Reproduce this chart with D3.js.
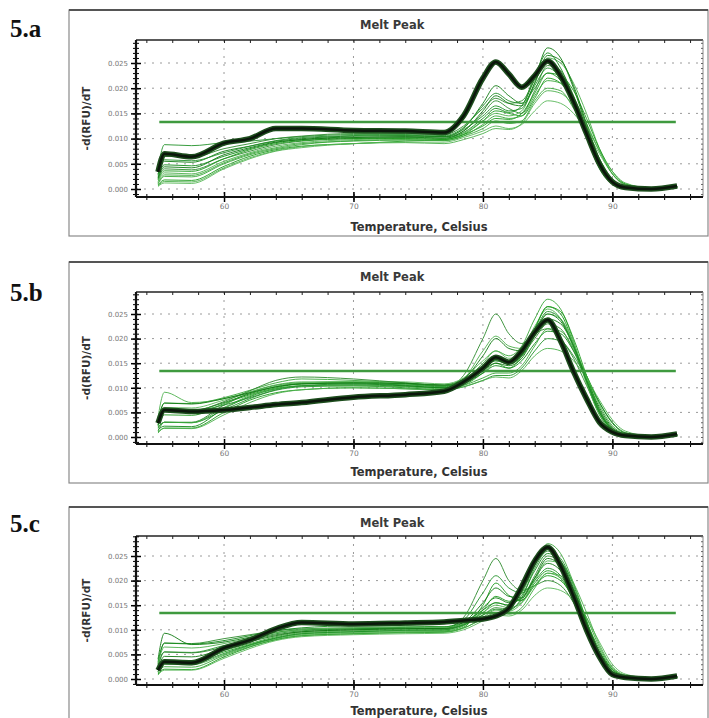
<!DOCTYPE html>
<html>
<head>
<meta charset="utf-8">
<script src="https://cdn.jsdelivr.net/npm/d3@7"></script>
<style>
  body { margin: 0; background: #fff; }
  svg { display: block; }
</style>
</head>
<body>
<div id="chart"></div>
<script>
/***** Data (values in units of 0.001 -d(RFU)/dT) *****/
var TEMPS = [54.9, 55.4, 57.5, 60, 62, 64, 66, 70, 74, 77, 78.5, 80, 81, 82, 83, 84, 85, 86, 87, 88, 89, 90, 91, 93, 95]

var X_TICKS = [60, 70, 80, 90]
var X_TICK_LABELS = ["60", "70", "80", "90"]
var Y_TICKS = [0, 5, 10, 15, 20, 25]
var Y_TICK_LABELS = ["0.000", "0.005", "0.010", "0.015", "0.020", "0.025"]
var PANEL_LABELS = ["5.a", "5.b", "5.c"]
var THRESHOLDS = [13.3, 13.4, 13.4]
var THRESHOLD_RANGE = [55.0, 94.9]

var A_THICK = [3.4, 7.0, 6.4, 9.1, 10.0, 12.0, 12.0, 11.6, 11.5, 11.2, 14.5, 22.0, 25.2, 22.8, 20.2, 22.5, 25.4, 22.4, 17.3, 11.0, 5.0, 1.4, 0.3, 0.0, 0.6]
var A_THIN = [
  [0.8, 1.8, 1.7, 4.5, 6.5, 7.8, 8.5, 9.0, 9.5, 9.8, 10.8, 13.5, 15.5, 15.0, 14.5, 18.0, 22.0, 21.0, 17.0, 11.0, 5.0, 1.5, 0.5, 0.1, 0.4],
  [2.0, 4.0, 3.8, 6.0, 7.5, 8.8, 9.5, 10.0, 10.2, 10.0, 11.5, 15.0, 17.5, 16.0, 15.0, 19.5, 24.5, 23.0, 18.0, 11.0, 4.5, 1.2, 0.3, 0.0, 0.5],
  [1.0, 2.5, 2.4, 5.0, 6.8, 8.0, 8.8, 9.6, 9.8, 9.6, 10.5, 12.0, 13.5, 13.0, 13.5, 17.5, 20.0, 19.5, 16.0, 11.5, 6.0, 2.0, 0.6, 0.1, 0.3],
  [3.0, 5.5, 5.3, 7.5, 8.5, 9.5, 10.0, 10.5, 10.6, 10.4, 12.0, 17.0, 20.5, 18.5, 17.0, 22.0, 28.0, 26.0, 20.0, 12.5, 5.5, 1.5, 0.4, 0.1, 0.4],
  [1.5, 3.2, 3.0, 5.5, 7.2, 8.5, 9.2, 9.8, 10.0, 9.9, 11.0, 13.5, 15.0, 14.5, 15.5, 21.0, 26.0, 25.0, 21.0, 15.0, 8.0, 3.0, 0.8, 0.1, 0.4],
  [4.0, 8.8, 8.6, 9.2, 9.5, 10.0, 10.4, 10.8, 10.7, 10.4, 11.8, 14.5, 16.5, 15.5, 16.0, 20.5, 24.0, 22.0, 17.0, 10.5, 4.0, 1.0, 0.3, 0.0, 0.5],
  [0.5, 1.2, 1.1, 4.0, 6.0, 7.5, 8.2, 9.0, 9.3, 9.3, 10.2, 11.5, 12.5, 12.0, 12.8, 15.5, 17.5, 17.0, 15.0, 11.5, 7.0, 3.0, 1.0, 0.2, 0.3],
  [2.5, 4.8, 4.6, 6.5, 8.0, 9.2, 9.8, 10.3, 10.3, 10.1, 11.2, 14.0, 16.0, 15.2, 16.5, 22.5, 27.0, 24.0, 18.0, 11.0, 4.5, 1.3, 0.4, 0.0, 0.4],
  [1.8, 3.6, 3.5, 6.0, 7.8, 9.0, 9.6, 10.0, 10.0, 9.8, 10.8, 12.5, 14.0, 13.8, 15.0, 19.0, 23.0, 22.5, 19.5, 14.0, 8.0, 3.5, 1.0, 0.2, 0.3],
  [3.5, 6.5, 6.3, 8.0, 9.0, 10.0, 10.5, 11.0, 11.0, 10.8, 12.5, 16.0, 18.0, 17.0, 17.5, 21.5, 25.0, 23.5, 18.5, 11.5, 5.0, 1.4, 0.4, 0.1, 0.5],
  [1.2, 2.8, 2.7, 5.2, 7.0, 8.2, 9.0, 9.5, 9.7, 9.6, 10.5, 12.8, 14.5, 14.0, 14.5, 18.5, 21.5, 21.0, 18.0, 13.0, 7.5, 3.0, 0.9, 0.2, 0.3],
  [2.2, 4.4, 4.2, 6.8, 8.2, 9.3, 9.8, 10.2, 10.4, 10.3, 11.5, 15.5, 18.5, 17.0, 16.5, 21.0, 26.5, 25.5, 20.5, 13.0, 6.0, 1.8, 0.5, 0.1, 0.4],
  [0.6, 1.5, 1.4, 4.2, 6.2, 7.6, 8.4, 9.0, 9.2, 9.0, 9.8, 11.0, 12.0, 11.8, 13.0, 17.0, 19.5, 19.0, 16.5, 12.5, 7.5, 3.5, 1.2, 0.2, 0.3],
  [2.8, 5.8, 5.6, 7.2, 8.5, 9.6, 10.2, 10.6, 10.8, 10.6, 12.2, 16.5, 19.0, 17.5, 17.0, 20.0, 23.0, 21.5, 17.0, 10.5, 4.2, 1.2, 0.3, 0.0, 0.5]
]

var B_THICK = [2.8, 5.5, 5.2, 5.5, 6.0, 6.6, 7.0, 8.1, 8.6, 9.3, 11.2, 14.0, 16.2, 15.2, 17.5, 21.3, 23.8, 19.5, 13.3, 7.8, 3.0, 1.0, 0.3, 0.0, 0.6]
var B_THIN = [
  [1.0, 1.8, 1.8, 5.0, 7.5, 9.0, 9.6, 10.0, 9.8, 9.6, 10.5, 13.0, 15.0, 14.0, 16.5, 22.0, 26.5, 25.0, 19.0, 11.5, 5.0, 1.5, 0.5, 0.1, 0.4],
  [2.0, 3.0, 3.0, 6.5, 9.0, 10.5, 11.0, 11.0, 10.5, 10.0, 12.5, 20.0, 25.0, 21.0, 19.0, 21.0, 22.0, 20.0, 16.0, 10.5, 5.0, 1.8, 0.6, 0.1, 0.4],
  [3.5, 6.9, 6.8, 8.0, 9.5, 11.0, 11.8, 11.5, 11.0, 10.5, 11.5, 15.0, 17.5, 16.5, 18.5, 24.0, 28.0, 26.0, 19.5, 11.0, 4.5, 1.2, 0.4, 0.0, 0.5],
  [2.5, 5.5, 5.4, 7.0, 8.8, 10.2, 10.8, 10.8, 10.4, 10.0, 11.0, 13.5, 15.0, 14.5, 16.0, 20.5, 24.0, 23.0, 18.5, 12.0, 6.0, 2.0, 0.6, 0.1, 0.3],
  [4.0, 9.1, 7.0, 7.8, 9.2, 10.6, 11.2, 11.2, 10.8, 10.3, 11.8, 17.5, 20.5, 18.5, 18.0, 22.5, 26.0, 24.0, 18.0, 11.0, 4.5, 1.3, 0.4, 0.0, 0.4],
  [1.2, 3.0, 2.9, 5.5, 7.8, 9.5, 10.2, 10.4, 10.0, 9.6, 10.2, 11.5, 12.5, 12.5, 14.0, 17.5, 20.0, 19.5, 16.5, 12.0, 7.0, 3.0, 0.9, 0.1, 0.3],
  [3.0, 6.0, 5.9, 7.5, 9.0, 10.3, 11.0, 11.3, 11.2, 10.8, 12.0, 15.5, 17.5, 16.0, 16.5, 21.0, 25.0, 24.0, 19.0, 12.0, 5.5, 1.6, 0.5, 0.1, 0.4],
  [1.5, 2.2, 2.1, 5.8, 8.2, 9.8, 10.4, 10.6, 10.3, 10.0, 10.8, 13.0, 14.5, 14.0, 15.5, 19.0, 21.5, 21.0, 17.5, 12.5, 7.0, 2.8, 0.8, 0.1, 0.3],
  [2.2, 4.5, 4.4, 6.8, 8.6, 10.0, 10.8, 11.0, 10.8, 10.4, 11.5, 14.5, 16.5, 15.5, 17.0, 22.0, 26.5, 25.5, 20.0, 12.5, 5.5, 1.5, 0.4, 0.0, 0.4],
  [2.8, 5.5, 5.3, 7.2, 9.4, 11.5, 12.2, 11.8, 11.0, 10.4, 11.2, 13.8, 15.5, 15.0, 16.5, 20.0, 23.0, 22.0, 17.5, 11.5, 5.5, 1.8, 0.5, 0.1, 0.3],
  [1.8, 3.0, 2.9, 6.0, 8.4, 9.8, 10.4, 10.4, 10.2, 9.8, 10.5, 12.0, 13.0, 13.0, 14.5, 18.5, 22.0, 21.5, 18.0, 12.5, 6.5, 2.3, 0.7, 0.1, 0.3],
  [3.2, 6.9, 6.7, 7.8, 9.0, 10.2, 10.8, 11.0, 10.9, 10.6, 11.8, 16.5, 20.0, 18.0, 17.5, 21.5, 25.0, 23.5, 18.5, 11.5, 5.0, 1.4, 0.4, 0.0, 0.4],
  [0.8, 1.8, 1.7, 4.5, 7.0, 8.8, 9.6, 10.0, 9.8, 9.5, 10.2, 11.5, 12.2, 12.0, 13.5, 16.5, 18.0, 17.5, 15.5, 12.0, 7.5, 3.5, 1.2, 0.2, 0.3],
  [2.4, 5.5, 5.4, 6.5, 8.0, 9.6, 10.4, 10.8, 10.6, 10.2, 11.5, 14.0, 15.5, 14.8, 16.5, 21.5, 25.5, 24.0, 18.5, 11.5, 5.0, 1.5, 0.4, 0.0, 0.4]
]

var C_THICK = [1.8, 3.5, 3.3, 6.3, 7.9, 10.2, 11.5, 11.2, 11.4, 11.6, 11.9, 12.2, 12.8, 14.4, 18.8, 24.0, 26.8, 23.0, 16.8, 10.0, 4.5, 0.9, 0.3, 0.0, 0.6]
var C_THIN = [
  [1.0, 2.0, 1.9, 4.5, 6.5, 8.0, 8.8, 9.2, 9.4, 9.5, 10.5, 15.0, 19.5, 17.0, 16.0, 19.5, 22.0, 20.5, 16.0, 10.5, 5.0, 1.5, 0.5, 0.1, 0.4],
  [3.0, 7.3, 7.2, 8.2, 9.0, 9.8, 10.2, 10.4, 10.4, 10.3, 12.5, 20.0, 24.5, 20.0, 18.0, 19.0, 20.0, 19.0, 15.5, 10.5, 5.5, 2.0, 0.6, 0.1, 0.4],
  [2.0, 3.8, 3.7, 5.8, 7.2, 8.6, 9.4, 9.8, 10.0, 10.0, 11.0, 13.5, 15.5, 15.0, 17.5, 23.0, 27.5, 25.5, 19.5, 12.0, 5.0, 1.5, 0.4, 0.0, 0.4],
  [4.0, 9.3, 7.0, 7.5, 8.5, 9.5, 10.0, 10.2, 10.3, 10.2, 11.2, 14.5, 16.5, 15.5, 16.5, 20.5, 23.5, 22.0, 17.5, 11.5, 5.5, 1.8, 0.5, 0.1, 0.4],
  [1.5, 3.0, 2.9, 5.0, 6.8, 8.2, 9.0, 9.4, 9.6, 9.6, 10.3, 12.5, 14.0, 13.8, 15.5, 20.0, 24.0, 23.5, 19.5, 13.5, 7.0, 2.5, 0.8, 0.1, 0.3],
  [2.5, 5.5, 5.4, 6.8, 8.0, 9.2, 9.8, 10.2, 10.5, 10.6, 12.0, 17.5, 21.0, 18.5, 17.5, 20.0, 22.5, 21.0, 16.5, 10.5, 4.8, 1.4, 0.4, 0.0, 0.4],
  [0.8, 1.8, 1.8, 4.2, 6.2, 7.8, 8.6, 9.0, 9.2, 9.3, 10.0, 11.8, 13.0, 12.8, 14.0, 17.0, 18.5, 18.0, 16.0, 12.5, 7.5, 3.0, 1.0, 0.2, 0.3],
  [3.5, 7.3, 7.1, 7.8, 8.8, 9.8, 10.4, 10.8, 10.8, 10.6, 11.5, 14.0, 15.5, 15.0, 17.0, 22.0, 25.5, 24.0, 18.5, 11.5, 5.0, 1.4, 0.4, 0.0, 0.4],
  [1.8, 3.8, 3.6, 5.5, 7.0, 8.4, 9.2, 9.6, 9.8, 9.8, 10.8, 14.0, 16.8, 15.8, 16.0, 19.0, 21.0, 20.0, 16.5, 11.5, 6.0, 2.0, 0.6, 0.1, 0.3],
  [2.8, 5.5, 5.3, 6.5, 7.8, 9.0, 9.6, 10.0, 10.2, 10.2, 11.0, 13.0, 14.5, 14.2, 16.0, 21.0, 25.0, 23.5, 18.0, 11.0, 4.8, 1.4, 0.4, 0.0, 0.4],
  [1.2, 2.5, 2.4, 4.8, 6.6, 8.0, 8.8, 9.2, 9.5, 9.6, 10.4, 12.2, 13.5, 13.2, 14.5, 18.5, 21.5, 21.0, 17.5, 12.5, 6.5, 2.3, 0.7, 0.1, 0.3],
  [2.2, 4.6, 4.5, 6.2, 7.6, 8.8, 9.6, 10.0, 10.2, 10.3, 11.5, 15.5, 18.5, 16.8, 16.5, 20.5, 24.5, 23.0, 18.0, 11.5, 5.0, 1.5, 0.4, 0.0, 0.4],
  [3.2, 6.5, 6.3, 7.2, 8.3, 9.4, 10.0, 10.4, 10.6, 10.5, 11.2, 13.5, 15.0, 14.5, 15.5, 19.0, 21.5, 20.5, 16.5, 11.0, 5.2, 1.6, 0.5, 0.1, 0.4],
  [1.5, 3.3, 3.2, 5.2, 6.9, 8.3, 9.2, 9.6, 9.9, 10.0, 11.0, 13.0, 14.2, 14.0, 16.5, 22.5, 26.0, 24.5, 19.0, 11.8, 5.0, 1.5, 0.4, 0.0, 0.4]
]

/***** Configuration *****/
var width = 709
var height = 718
var greens = ["#1c9a1c", "#2e8b2e", "#3aa63a", "#0f7a12", "#4cb04c", "#22912a", "#5ab85a", "#138a1a"]
var font = "'DejaVu Sans', Verdana, sans-serif"

// layout of each boxed panel (pixel offsets from the panel's top edge)
var layouts = [
  {top: 10,  labelY: 37,  frameH: 226, plotTop: 30, plotBottom: 187, zero: 179, full: 53, titleY: 19, tickY: 199, xTitleY: 221},
  {top: 262, labelY: 301, frameH: 221, plotTop: 30, plotBottom: 182, zero: 175, full: 52, titleY: 19, tickY: 194, xTitleY: 214},
  {top: 507, labelY: 532, frameH: 230, plotTop: 29, plotBottom: 178, zero: 172, full: 49, titleY: 20, tickY: 190, xTitleY: 208}
]
var series = [[A_THIN, A_THICK], [B_THIN, B_THICK], [C_THIN, C_THICK]]

var frameLeft = 69, frameRight = 708
var plotLeft = 136, plotRight = 703

var svg = d3.select("#chart")
  .append("svg")
  .attr("width", width)
  .attr("height", height)

var x = d3.scaleLinear().domain([53.2, 97]).range([plotLeft, plotRight])

layouts.forEach(function (L, i) {
  var g = svg.append("g").attr("transform", "translate(0," + L.top + ")")
  var y = d3.scaleLinear().domain([0, 25]).range([L.zero, L.full])
  var thin = series[i][0], thick = series[i][1]

  // panel number
  svg.append("text")
    .attr("x", 10).attr("y", L.labelY)
    .attr("font-family", "'Liberation Serif', 'Times New Roman', serif")
    .attr("font-weight", "bold").attr("font-size", 25)
    .attr("fill", "#111")
    .text(PANEL_LABELS[i])

  // outer frame
  g.append("rect")
    .attr("x", frameLeft).attr("y", 0)
    .attr("width", frameRight - frameLeft).attr("height", L.frameH)
    .attr("fill", "#fff").attr("stroke", "#8a8a8a").attr("stroke-width", 1.2)
  g.append("line")
    .attr("x1", frameLeft).attr("x2", frameRight).attr("y1", 0).attr("y2", 0)
    .attr("stroke", "#555").attr("stroke-width", 2)

  g.append("text")
    .attr("x", 360).attr("y", L.titleY)
    .attr("font-family", font).attr("font-weight", "bold").attr("font-size", 11.5)
    .attr("fill", "#3a3a3a")
    .text("Melt Peak")

  // dotted grid
  g.append("g").selectAll("line").data(Y_TICKS).join("line")
    .attr("x1", plotLeft).attr("x2", plotRight)
    .attr("y1", function (d) { return y(d) }).attr("y2", function (d) { return y(d) })
    .attr("stroke", "#9a9a9a").attr("stroke-width", 1).attr("stroke-dasharray", "2,6")
  g.append("g").selectAll("line").data(X_TICKS).join("line")
    .attr("x1", function (d) { return x(d) }).attr("x2", function (d) { return x(d) })
    .attr("y1", L.plotTop).attr("y2", L.plotBottom)
    .attr("stroke", "#9a9a9a").attr("stroke-width", 1).attr("stroke-dasharray", "2,6")

  // plot border: top black, right grey
  g.append("line")
    .attr("x1", plotLeft).attr("x2", plotRight).attr("y1", L.plotTop).attr("y2", L.plotTop)
    .attr("stroke", "#222").attr("stroke-width", 1.5)
  g.append("line")
    .attr("x1", plotRight).attr("x2", plotRight).attr("y1", L.plotTop).attr("y2", L.plotBottom)
    .attr("stroke", "#888").attr("stroke-width", 1)

  // minor / major ticks with d3 axes
  var minorX = d3.range(54, 97, 2)
  var minorY = d3.range(-1, 30, 1)
  function clean(sel) { sel.select(".domain").remove(); sel.selectAll("text").remove() }

  g.append("g").attr("transform", "translate(0," + L.plotTop + ")")
    .call(d3.axisBottom(x).tickValues(minorX).tickSize(3).tickFormat("")).call(clean)
    .selectAll("line").attr("stroke", "#222")
  g.append("g").attr("transform", "translate(0," + L.plotBottom + ")")
    .call(d3.axisBottom(x).tickValues(minorX).tickSize(3).tickFormat("")).call(clean)
  g.append("g").attr("transform", "translate(0," + L.plotBottom + ")")
    .call(d3.axisTop(x).tickValues(minorX).tickSize(3).tickFormat("")).call(clean)
  g.append("g").attr("transform", "translate(" + plotLeft + ",0)")
    .call(d3.axisLeft(y).tickValues(minorY).tickSize(3).tickFormat("")).call(clean)
  g.append("g").attr("transform", "translate(" + plotLeft + ",0)")
    .call(d3.axisRight(y).tickValues(minorY).tickSize(3).tickFormat("")).call(clean)
  g.append("g").attr("transform", "translate(" + plotRight + ",0)")
    .call(d3.axisLeft(y).tickValues(minorY).tickSize(2).tickFormat("")).call(clean)
    .selectAll("line").attr("stroke", "#666")

  // major x ticks + labels
  var xAxis = g.append("g").attr("transform", "translate(0," + L.plotBottom + ")")
    .call(d3.axisBottom(x).tickValues(X_TICKS).tickSize(5)
      .tickFormat(function (d, k) { return X_TICK_LABELS[k] }))
  xAxis.select(".domain").remove()
  xAxis.selectAll("line").attr("stroke-width", 1.5).attr("y1", -5)
  xAxis.selectAll("text").attr("font-family", font).attr("font-size", 7.5).attr("fill", "#777")
    .attr("y", L.tickY - L.plotBottom).attr("dy", 0)

  // major y ticks + labels
  var yAxis = g.append("g").attr("transform", "translate(" + plotLeft + ",0)")
    .call(d3.axisLeft(y).tickValues(Y_TICKS).tickSize(5).tickPadding(4)
      .tickFormat(function (d, k) { return Y_TICK_LABELS[k] }))
  yAxis.select(".domain").remove()
  yAxis.selectAll("line").attr("stroke-width", 1.5).attr("x2", 5).attr("x1", -5)
  yAxis.selectAll("text").attr("font-family", font).attr("font-size", 7).attr("fill", "#777")
    .attr("x", -8)

  // heavy left and bottom axes
  g.append("line")
    .attr("x1", plotLeft).attr("x2", plotRight).attr("y1", L.plotBottom).attr("y2", L.plotBottom)
    .attr("stroke", "#111").attr("stroke-width", 2.2)
  g.append("line")
    .attr("x1", plotLeft).attr("x2", plotLeft).attr("y1", L.plotTop).attr("y2", L.plotBottom)
    .attr("stroke", "#111").attr("stroke-width", 2.2)

  // axis titles
  g.append("text")
    .attr("transform", "translate(90," + ((L.plotTop + L.plotBottom) / 2) + ") rotate(-90)")
    .attr("text-anchor", "middle")
    .attr("font-family", font).attr("font-weight", "bold").attr("font-size", 10.5)
    .attr("fill", "#333")
    .text("-d(RFU)/dT")
  g.append("text")
    .attr("x", 419).attr("y", L.xTitleY)
    .attr("text-anchor", "middle")
    .attr("font-family", font).attr("font-weight", "bold").attr("font-size", 11.5)
    .attr("fill", "#333")
    .text("Temperature, Celsius")

  // curves
  var line = d3.line()
    .x(function (d, k) { return x(TEMPS[k]) })
    .y(function (d) { return y(d) })
    .curve(d3.curveMonotoneX)

  g.append("g").selectAll("path").data(thin).join("path")
    .attr("d", line)
    .attr("fill", "none")
    .attr("stroke", function (d, k) { return greens[k % greens.length] })
    .attr("stroke-width", 1)
    .attr("stroke-opacity", 0.9)

  // threshold
  g.append("line")
    .attr("x1", x(THRESHOLD_RANGE[0])).attr("x2", x(THRESHOLD_RANGE[1]))
    .attr("y1", y(THRESHOLDS[i])).attr("y2", y(THRESHOLDS[i]))
    .attr("stroke", "#3f9a3f").attr("stroke-width", 2.5)

  // highlighted sample
  g.append("path").datum(thick)
    .attr("d", line)
    .attr("fill", "none").attr("stroke", "#1d4d1d").attr("stroke-width", 5.5)
    .attr("stroke-linejoin", "round")
  g.append("path").datum(thick)
    .attr("d", line)
    .attr("fill", "none").attr("stroke", "#0b160b").attr("stroke-width", 2.5)
    .attr("stroke-linejoin", "round")
})
</script>
</body>
</html>
